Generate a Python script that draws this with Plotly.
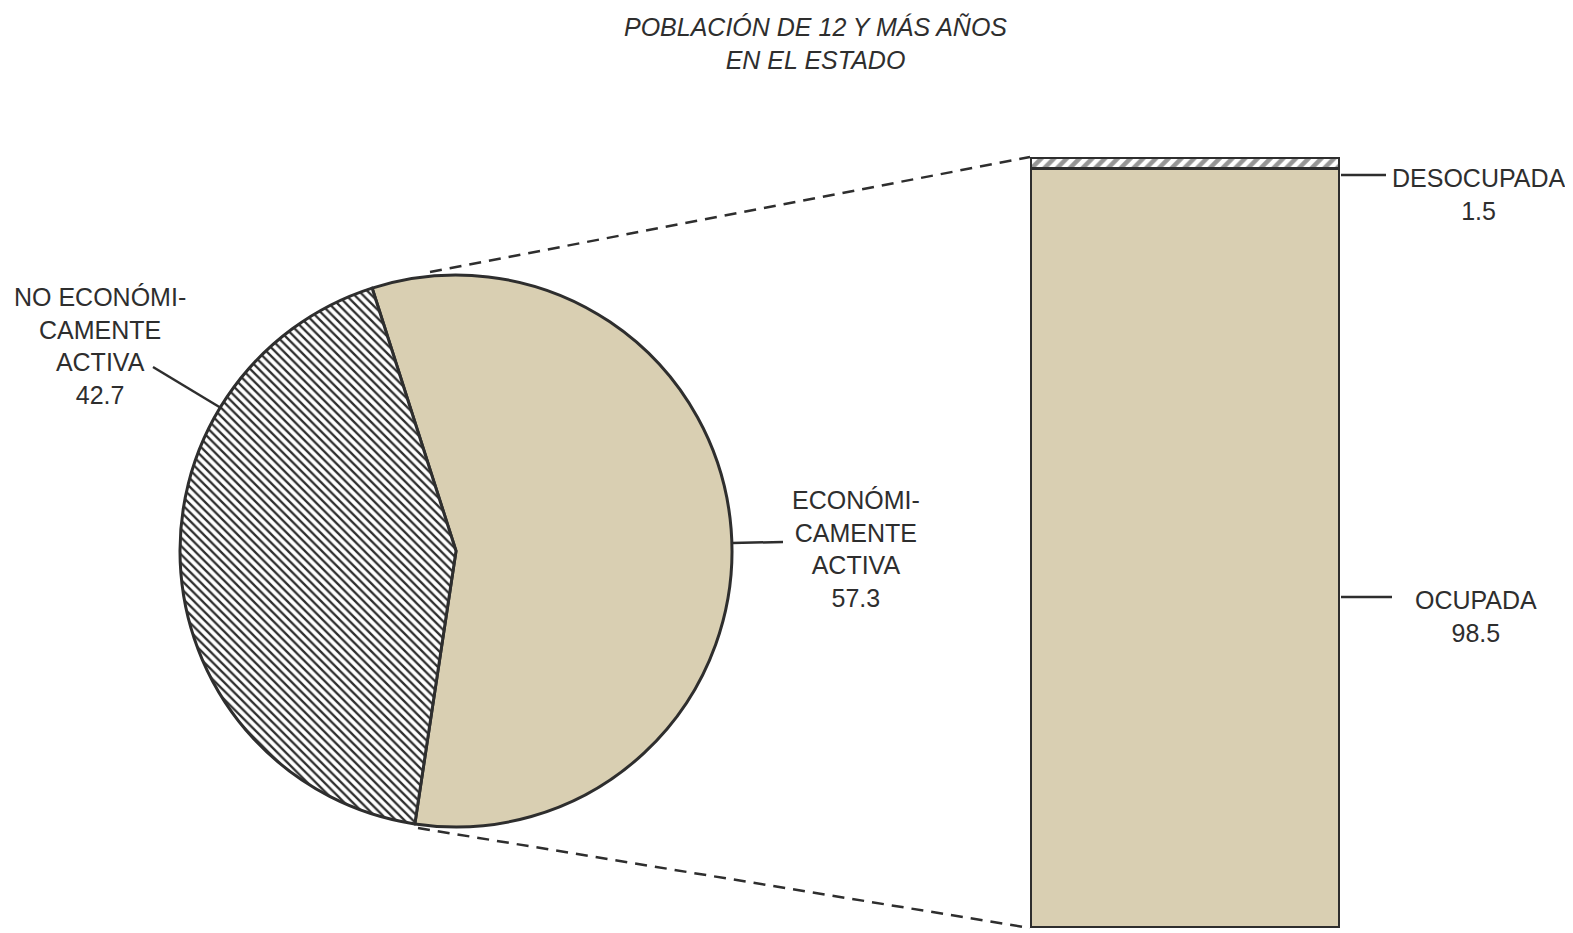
import plotly.graph_objects as go

# ---- data ----
pie_labels = ["ECONÓMICAMENTE ACTIVA", "NO ECONÓMICAMENTE ACTIVA"]
pie_text = ["ECONÓMI-<br>CAMENTE<br>ACTIVA", "NO ECONÓMI-<br>CAMENTE<br>ACTIVA"]
pie_values = [57.3, 42.7]

bar_labels = ["OCUPADA", "DESOCUPADA"]
bar_values = [98.5, 1.5]

title_text = "POBLACIÓN DE 12 Y MÁS AÑOS<br>EN EL ESTADO"

# ---- style ----
OFF = 8  # default page body margin
W, H = 1573 - OFF, 933 - OFF
BEIGE = "#d9cfb2"
INK = "#2e2e2e"
FONT = "Liberation Sans, Arial, sans-serif"

def px(x):
    return (x - OFF) / W

def py(y):
    return 1 - (y - OFF) / H

fig = go.Figure()

# pie
cx, cy, r = 456, 551, 276
fig.add_trace(go.Pie(
    labels=pie_labels,
    values=pie_values,
    sort=False,
    direction="clockwise",
    rotation=-17.7,
    textinfo="none",
    hoverinfo="label+value",
    showlegend=False,
    domain=dict(x=[px(cx - r), px(cx + r)], y=[py(cy + r), py(cy - r)]),
    marker=dict(
        colors=[BEIGE, "white"],
        line=dict(color=INK, width=3),
        pattern=dict(shape=["", "\\"], fgcolor=INK, bgcolor=[BEIGE, "white"],
                     size=6, solidity=0.38),
    ),
))

# stacked bar
bar_colors = [BEIGE, "white"]
bar_patterns = ["", "/"]
for lab, val, col, pat in zip(bar_labels, bar_values, bar_colors, bar_patterns):
    fig.add_trace(go.Bar(
        x=[0], y=[val], width=1, name=lab,
        marker=dict(color=col, line=dict(color=INK, width=3.5),
                    pattern=dict(shape=pat, fgcolor=INK, bgcolor=col, size=9, solidity=0.5)),
        showlegend=False, hoverinfo="name+y",
    ))

fig.update_layout(
    width=W, height=H,
    margin=dict(l=0, r=0, t=0, b=0),
    paper_bgcolor="white", plot_bgcolor="rgba(0,0,0,0)",
    barmode="stack",
    xaxis=dict(domain=[px(1030), px(1340)], range=[-0.5, 0.5], visible=False, fixedrange=True),
    yaxis=dict(domain=[py(928), py(157)], range=[0, 100], visible=False, fixedrange=True),
    font=dict(family=FONT, color=INK),
)

line_style = dict(color=INK, width=2.5)
shapes = [
    # dashed connectors
    dict(type="line", xref="paper", yref="paper", x0=px(430), y0=py(272), x1=px(1030), y1=py(157),
         line=dict(color=INK, width=2.5, dash="12px,8px")),
    dict(type="line", xref="paper", yref="paper", x0=px(418), y0=py(828), x1=px(1030), y1=py(928),
         line=dict(color=INK, width=2.5, dash="12px,8px")),
    # leader lines
    dict(type="line", xref="paper", yref="paper", x0=px(153), y0=py(367), x1=px(221), y1=py(408), line=line_style),
    dict(type="line", xref="paper", yref="paper", x0=px(732), y0=py(543), x1=px(783), y1=py(542), line=line_style),
    dict(type="line", xref="paper", yref="paper", x0=px(1341), y0=py(175), x1=px(1386), y1=py(175), line=line_style),
    dict(type="line", xref="paper", yref="paper", x0=px(1341), y0=py(597), x1=px(1392), y1=py(597), line=line_style),
]
fig.update_layout(shapes=shapes)

lab_font = dict(family=FONT, size=25, color=INK)
annotations = [
    dict(text=f"{pie_text[1]}<br>{pie_values[1]}", x=px(100), y=py(281), xanchor="center", yanchor="top"),
    dict(text=f"{pie_text[0]}<br>{pie_values[0]}", x=px(856), y=py(484), xanchor="center", yanchor="top"),
    dict(text=f"{bar_labels[1]}<br>{bar_values[1]}", x=px(1479), y=py(162), xanchor="center", yanchor="top"),
    dict(text=f"{bar_labels[0]}<br>{bar_values[0]}", x=px(1476), y=py(584), xanchor="center", yanchor="top"),
]
for a in annotations:
    a.update(font=lab_font)
annotations.append(dict(text=title_text, x=px(816), y=py(11), xanchor="center", yanchor="top",
                        font=dict(family=FONT, size=25, color=INK, style="italic")))
for a in annotations:
    a.update(xref="paper", yref="paper", showarrow=False, align="center")
fig.update_layout(annotations=annotations)

fig.write_html("out.html")
